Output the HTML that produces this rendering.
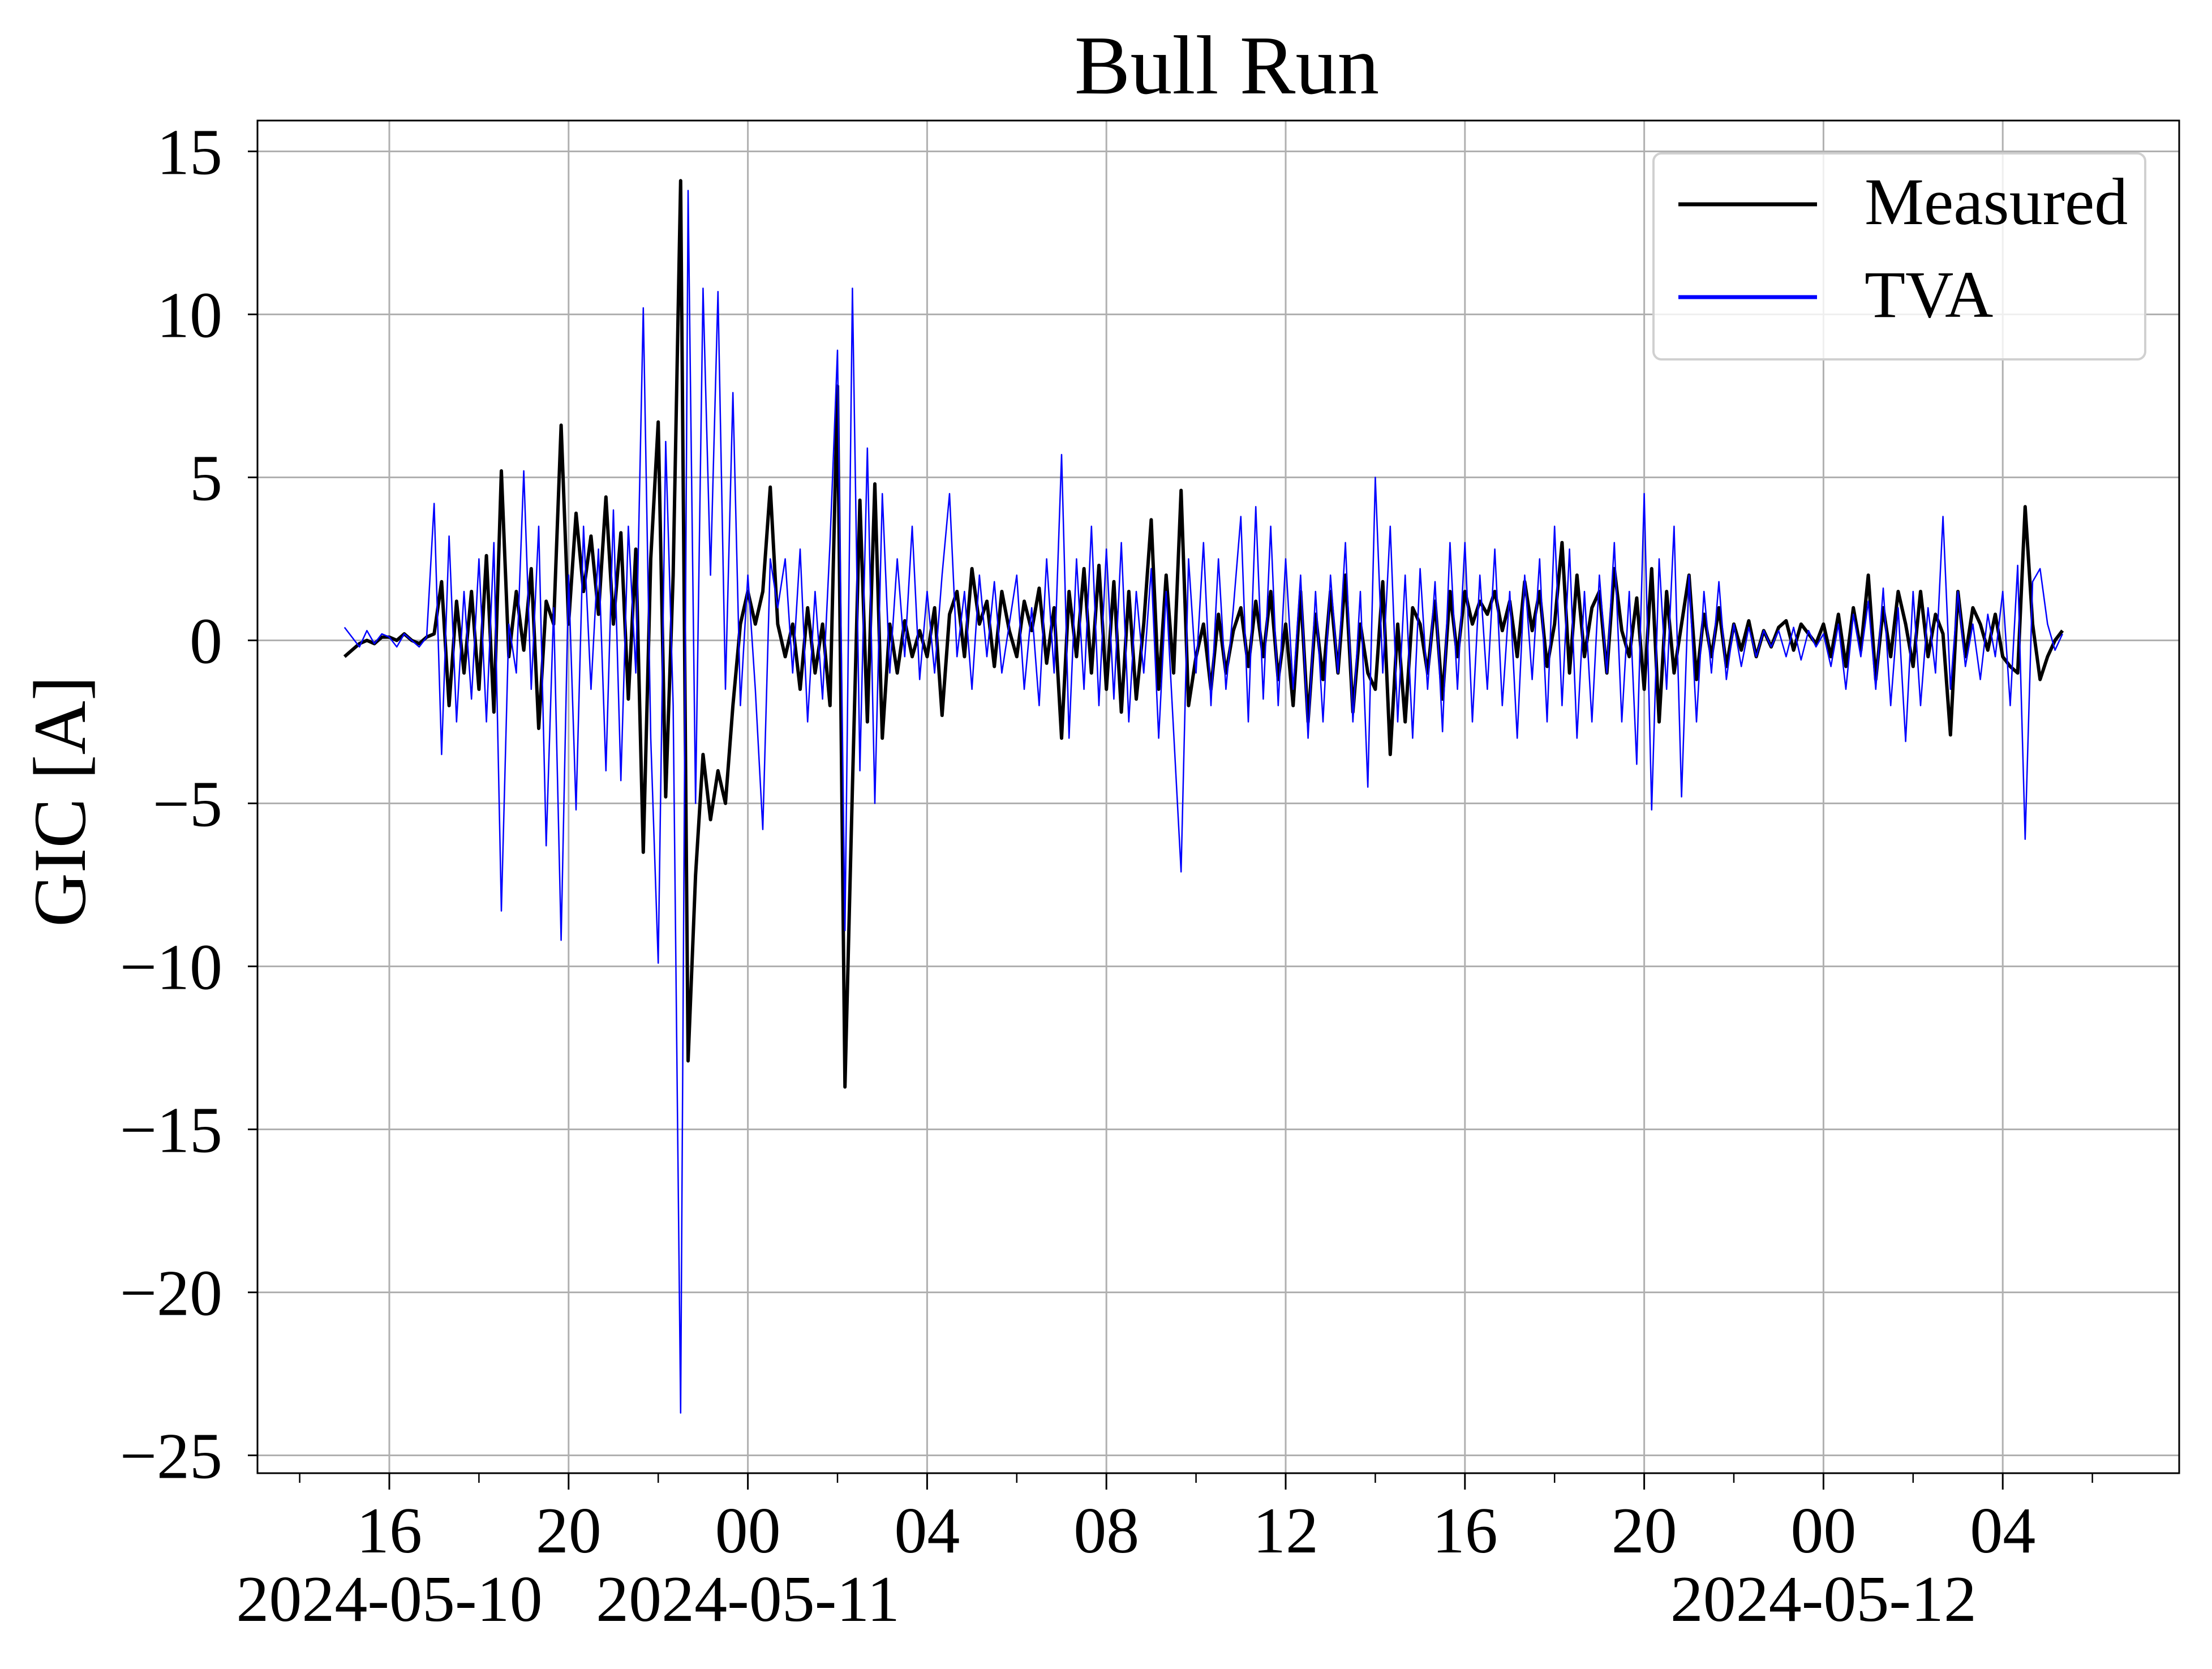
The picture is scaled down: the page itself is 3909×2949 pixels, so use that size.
<!DOCTYPE html>
<html><head><meta charset="utf-8"><style>
html,body{margin:0;padding:0;background:#fff}
svg{display:block}
text{font-family:"Liberation Serif","Times New Roman",serif;fill:#000}
</style></head><body>
<svg id="chart" width="3909" height="2949" viewBox="0 0 3909 2949">
<rect x="0" y="0" width="3909" height="2949" fill="#fff"/>
<text x="2168" y="165" font-size="148" text-anchor="middle">Bull Run</text>
<text transform="translate(150,1416) rotate(-90)" font-size="132" text-anchor="middle">GIC [A]</text>
<g id="grid"></g>
<g id="series"></g>
<rect x="455" y="213" width="3396" height="2390" fill="none" stroke="#000" stroke-width="3"/>
<g id="ticks"></g>
<g>
<rect x="2922" y="271" width="869" height="364" rx="14" fill="#fff" fill-opacity="0.8" stroke="#d0d0d0" stroke-width="4"/>
<line x1="2966" y1="361" x2="3211" y2="361" stroke="#000" stroke-width="7"/>
<text x="3295" y="396" font-size="118">Measured</text>
<line x1="2966" y1="525" x2="3211" y2="525" stroke="#0000ff" stroke-width="7"/>
<text x="3295" y="560" font-size="118">TVA</text>
</g>
</svg>
<script>
// data: 10-minute samples starting 2024-05-10 15:00
const startHour = -1; // hours relative to 2024-05-10 16:00
const stepHours = 1/6;
const measured = [
-0.5,-0.3,-0.1,0,-0.1,0.1,
0.1,0,0.2,0,-0.1,0.1,
0.2,1.8,-2,1.2,-1,1.5,
-1.5,2.6,-2.2,5.2,-0.5,1.5,
-0.3,2.2,-2.7,1.2,0.5,6.6,
0.5,3.9,1.5,3.2,0.8,4.4,
0.5,3.3,-1.8,2.8,-6.5,2.5,
6.7,-4.8,2,14.1,-12.9,-7.2,
-3.5,-5.5,-4,-5,-2,0.5,
1.5,0.5,1.5,4.7,0.5,-0.5,
0.5,-1.5,1,-1,0.5,-2,
7.8,-13.7,-4.5,4.3,-2.5,4.8,
-3,0.5,-1,0.6,-0.5,0.3,
-0.5,1,-2.3,0.8,1.5,-0.5,
2.2,0.5,1.2,-0.8,1.5,0.3,
-0.5,1.2,0.3,1.6,-0.7,1,
-3,1.5,-0.5,2.2,-1,2.3,
-1.5,1.8,-2.2,1.5,-1.8,0.5,
3.7,-1.5,2,-1,4.6,-2,
-0.5,0.5,-1.5,0.8,-1,0.3,
1,-0.8,1.2,-0.5,1.5,-1.2,
0.5,-2,1.5,-2.5,0.8,-1.2,
1.5,-1,2,-2.2,0.5,-1,
-1.5,1.8,-3.5,0.5,-2.5,1,
0.5,-1,1.2,-1.8,1.5,-0.5,
1.5,0.5,1.2,0.8,1.5,0.3,
1.2,-0.5,1.8,0.3,1.5,-0.8,
0.5,3,-1,2,-0.5,1,
1.5,-1,2.2,0.3,-0.5,1.3,
-1.5,2.2,-2.5,1.5,-1,0.5,
2,-1.2,0.8,-0.5,1,-0.8,
0.5,-0.3,0.6,-0.5,0.3,-0.2,
0.4,0.6,-0.3,0.5,0.2,-0.1,
0.5,-0.5,0.8,-0.8,1,-0.3,
2,-1.2,1,-0.5,1.5,0.5,
-0.8,1.5,-0.5,0.8,0.2,-2.9,
1.5,-0.5,1,0.5,-0.3,0.8,
-0.5,-0.8,-1,4.1,0.5,-1.2,
-0.5,0,0.3
];
const tva = [
0.4,0.1,-0.2,0.3,-0.1,0.2,
0.1,-0.2,0.2,0,-0.2,0.1,
4.2,-3.5,3.2,-2.5,1.5,-1.8,
2.5,-2.5,3,-8.3,0.5,-1,
5.2,-1.5,3.5,-6.3,1,-9.2,
2,-5.2,3.5,-1.5,2.8,-4,
4,-4.3,3.5,-1,10.2,-3,
-9.9,6.1,-2,-23.7,13.8,-5,
10.8,2,10.7,-1.5,7.6,-2,
2,-1.5,-5.8,2.5,1,2.5,
-1,2.8,-2.5,1.5,-1.8,3,
8.9,-8.9,10.8,-4,5.9,-5,
4.5,-1,2.5,-0.5,3.5,-1.2,
1.5,-1,2,4.5,-0.5,1.5,
-1.5,2,-0.5,1.8,-1,0.5,
2,-1.5,1,-2,2.5,-1,
5.7,-3,2.5,-1.5,3.5,-2,
2.8,-1.8,3,-2.5,1.5,-1,
2.2,-3,1.5,-2.8,-7.1,2.5,
-1,3,-2,2.5,-1.5,1,
3.8,-2.5,4.1,-1.8,3.5,-2,
2.5,-1.5,2,-3,1.5,-2.5,
2,-1,3,-2.5,1.5,-4.5,
5,-1,3.5,-2.5,2,-3,
2.2,-1.5,1.8,-2.8,3,-1.5,
3,-2.5,2,-1.5,2.8,-2,
1.5,-3,2,-1.2,2.5,-2.5,
3.5,-2,2.8,-3,1.5,-2.5,
2,-1,3,-2.5,1.5,-3.8,
4.5,-5.2,2.5,-1.5,3.5,-4.8,
2,-2.5,1.5,-1,1.8,-1.2,
0.5,-0.8,0.4,-0.5,0.3,-0.2,
0.3,-0.5,0.4,-0.6,0.3,-0.2,
0.2,-0.8,0.5,-1.5,0.8,-0.5,
1.2,-1.5,1.6,-2,1,-3.1,
1.5,-2,1,-1,3.8,-1.5,
1.5,-0.8,0.5,-1.2,0.8,-0.5,
1.5,-2,2.3,-6.1,1.8,2.2,
0.5,-0.3,0.2
];
const yTicks = [15,10,5,0,-5,-10,-15,-20,-25];
const yTickLabels = ["15","10","5","0","\u22125","\u221210","\u221215","\u221220","\u221225"];
const xTickHours = [0,4,8,12,16,20,24,28,32,36];
const xTickLabels = ["16","20","00","04","08","12","16","20","00","04"];
const xMinorHours = [-2,2,6,10,14,18,22,26,30,34,38];
const dateLabels = ["2024-05-10","2024-05-11","2024-05-12"];
const dateHours = [0,8,32];

const NS = "http://www.w3.org/2000/svg";
function X(h){ return 688 + 79.2*h; }
function Y(v){ return 1131.5 - 57.6*v; }
const L=455, R=3851, T=213, B=2603;
function mk(tag, attrs, parent){ const e=document.createElementNS(NS,tag); for(const k in attrs) e.setAttribute(k,attrs[k]); parent.appendChild(e); return e; }
const grid=document.getElementById('grid'), ticks=document.getElementById('ticks'), series=document.getElementById('series');

yTicks.forEach((v,i)=>{
  const g = mk('line',{x1:L,x2:R,y1:Y(v),y2:Y(v),stroke:'#b0b0b0','stroke-width':3},grid);
  
  
  const t = mk('line',{x1:L-17,x2:L,y1:Y(v),y2:Y(v),stroke:'#000','stroke-width':3},ticks);
  
  
  const lb = mk('text',{x:L-62,y:Y(v)+40,'font-size':116,'text-anchor':'end'},ticks);
  lb.textContent = yTickLabels[i];
  
  
});
xTickHours.forEach((h,i)=>{
  const g = mk('line',{x1:X(h),x2:X(h),y1:T,y2:B,stroke:'#b0b0b0','stroke-width':3},grid);
  
  
  const t = mk('line',{x1:X(h),x2:X(h),y1:B,y2:B+29,stroke:'#000','stroke-width':3},ticks);
  
  
  const lb = mk('text',{x:X(h),y:2743,'font-size':116,'text-anchor':'middle'},ticks);
  lb.textContent = xTickLabels[i];
  
  
});
xMinorHours.forEach(h=>{
  if (X(h)<L || X(h)>R) return;
  const t = mk('line',{x1:X(h),x2:X(h),y1:B,y2:B+17,stroke:'#000','stroke-width':2.5},ticks);
  
  
});
dateLabels.forEach((d,i)=>{
  const lb = mk('text',{x:X(dateHours[i]),y:2864,'font-size':116,'text-anchor':'middle'},ticks);
  lb.textContent = d;
  
  
});
function pathFor(arr){ return arr.map((v,i)=>(i?'L':'M')+X(startHour+i*stepHours).toFixed(1)+' '+Y(v).toFixed(1)).join(' '); }
const pm = mk('path',{d:pathFor(measured),fill:'none',stroke:'#000','stroke-width':6,'stroke-linejoin':'round'},series);


const pt = mk('path',{d:pathFor(tva),fill:'none',stroke:'#0000ff','stroke-width':2.5,'stroke-linejoin':'round'},series);


</script>
</body></html>
